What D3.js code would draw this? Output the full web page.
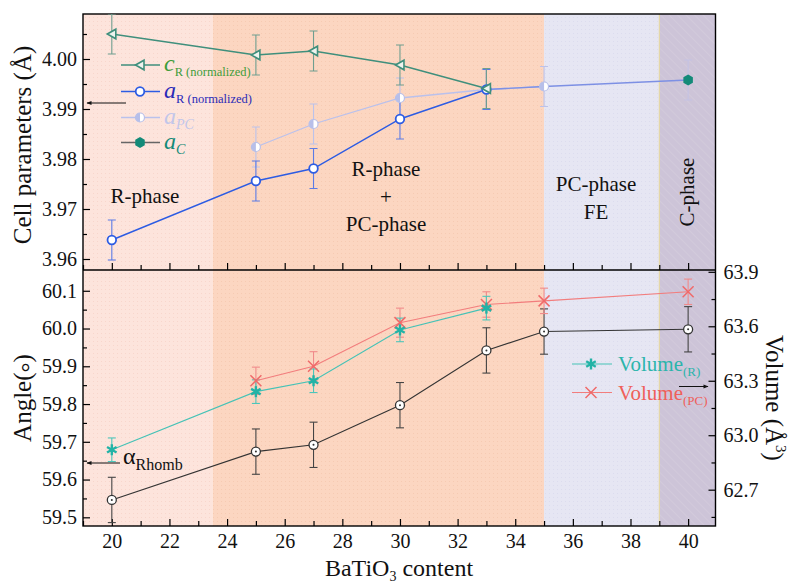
<!DOCTYPE html>
<html><head><meta charset="utf-8">
<script src="https://cdn.jsdelivr.net/npm/d3@7"></script>
<style>
body{margin:0;background:#fff}
svg{font-family:"Liberation Serif","Times New Roman",serif}
.ax path{stroke:#000;stroke-width:1.3}
.ax line{stroke:#000;stroke-width:1.2}
.ax text{font-family:"Liberation Serif",serif;font-size:20px;fill:#111}
</style>
</head><body><svg id="c" width="793" height="586"></svg>
<script>
// ---------- data ----------
const xMajorTicks=[20,22,24,26,28,30,32,34,36,38,40];
const xMinorTicks=[19,21,23,25,27,29,31,33,35,37,39];
const cellTicks=[3.96,3.97,3.98,3.99,4.00];
const cellMinor=[3.965,3.975,3.985,3.995,4.005];
const angleTicks=[59.5,59.6,59.7,59.8,59.9,60.0,60.1];
const angleMinor=[59.55,59.65,59.75,59.85,59.95,60.05];
const volTicks=[62.7,63.0,63.3,63.6,63.9];
const volMinor=[62.55,62.85,63.15,63.45,63.75];

const phaseEdges=[23.5,35,39];           // R | R+PC | PC | C
const cR_x=[20,25,27,30,33];
const cR_y=[4.0050,4.0008,4.0016,3.9988,3.9941];
const cR_err=[0.004,0.004,0.004,0.004,0.004];
const aR_x=[20,25,27,30,33];
const aR_y=[3.9638,3.9756,3.9781,3.9880,3.9939];
const aR_err=[0.004,0.004,0.004,0.004,0.004];
const aPC_x=[25,27,30,33,35];
const aPC_y=[3.9824,3.9870,3.9922,3.9939,3.9945];
const aPC_err=[0.004,0.004,0.004,0.004,0.004];
const aC_x=[40];
const aC_y=[3.9958];
const aC_err=[0.004];
const alpha_x=[20,25,27,30,33,35,40];
const alpha_y=[59.546,59.674,59.692,59.797,59.942,59.992,59.998];
const alpha_err=[0.06,0.06,0.06,0.06,0.06,0.06,0.06];
const volR_x=[20,25,27,30,33];
const volR_y=[62.92,63.24,63.30,63.58,63.70];
const volR_err=[0.065,0.065,0.065,0.065,0.065];
const volPC_x=[25,27,30,33,35,40];
const volPC_y=[63.30,63.38,63.62,63.72,63.74,63.79];
const volPC_err=[0.075,0.08,0.08,0.07,0.07,0.07];

// ---------- layout ----------
const L=83,R=715.5,T=14,MID=270,B=526;
const svg=d3.select("#c");
const x=d3.scaleLinear().domain([19.0,40.95]).range([L,R]);
const yCell=d3.scaleLinear().domain([3.9578,4.009]).range([MID,T]);
const yAng=d3.scaleLinear().domain([59.477,60.155]).range([B,MID]);
const yVol=d3.scaleLinear().domain([62.5,63.91]).range([B,MID]);

const defs=svg.append("defs");
function dotPat(id,bg,dot){
  const p=defs.append("pattern").attr("id",id).attr("width",4).attr("height",4).attr("patternUnits","userSpaceOnUse");
  p.append("rect").attr("width",4).attr("height",4).attr("fill",bg);
  p.append("rect").attr("x",1).attr("y",1).attr("width",1).attr("height",1).attr("fill",dot);
}
dotPat("pR","#fde4dc","#f8d6cc");
dotPat("pRPC","#fcd6c1","#f6cab2");
dotPat("pPC","#e6e6f3","#dcdcee");
const hp=defs.append("pattern").attr("id","pC").attr("width",6).attr("height",6).attr("patternUnits","userSpaceOnUse").attr("patternTransform","rotate(-45)");
hp.append("rect").attr("width",6).attr("height",6).attr("fill","#cdc4d8");
hp.append("line").attr("x1",0).attr("y1",0).attr("x2",0).attr("y2",6).attr("stroke","#d6cede").attr("stroke-width",1.2);

// backgrounds
const bounds=[x.domain()[0],...phaseEdges,x.domain()[1]];
const fills=["url(#pR)","url(#pRPC)","url(#pPC)","url(#pC)"];
for(let i=0;i<4;i++){
  svg.append("rect").attr("x",x(bounds[i])).attr("y",T).attr("width",x(bounds[i+1])-x(bounds[i])).attr("height",B-T).attr("fill",fills[i]);
}
svg.append("line").attr("x1",x(phaseEdges[2])).attr("x2",x(phaseEdges[2])).attr("y1",T).attr("y2",B).attr("stroke","#e6d79a").attr("stroke-width",1);

// phase labels
const lab=svg.append("g").attr("font-size",21).attr("fill","#111").attr("text-anchor","middle");
lab.append("text").attr("x",145).attr("y",203).text("R-phase");
lab.append("text").attr("x",386).attr("y",176).text("R-phase");
lab.append("text").attr("x",386).attr("y",204).text("+");
lab.append("text").attr("x",386).attr("y",231).text("PC-phase");
lab.append("text").attr("x",596).attr("y",191).text("PC-phase");
lab.append("text").attr("x",596).attr("y",219).text("FE");
lab.append("text").attr("transform","translate(694,192) rotate(-90)").text("C-phase");

// ---------- axes ----------
function addAxis(gen,tx,ty){return svg.append("g").attr("class","ax").attr("transform",`translate(${tx},${ty})`).call(gen);}
addAxis(d3.axisLeft(yCell).tickValues(cellTicks).tickFormat(d3.format(".2f")).tickSize(-7).tickPadding(6),L,0);
addAxis(d3.axisLeft(yCell).tickValues(cellMinor).tickFormat("").tickSize(-4),L,0);
addAxis(d3.axisBottom(x).tickValues(xMajorTicks).tickFormat("").tickSize(-7),0,MID);
addAxis(d3.axisBottom(x).tickValues(xMinorTicks).tickFormat("").tickSize(-5),0,MID);
addAxis(d3.axisLeft(yAng).tickValues(angleTicks).tickFormat(d3.format(".1f")).tickSize(-7).tickPadding(6),L,0);
addAxis(d3.axisLeft(yAng).tickValues(angleMinor).tickFormat("").tickSize(-4),L,0);
addAxis(d3.axisRight(yVol).tickValues(volTicks).tickFormat(d3.format(".1f")).tickSize(-7).tickPadding(8),R,0);
addAxis(d3.axisRight(yVol).tickValues(volMinor).tickFormat("").tickSize(-4),R,0);
addAxis(d3.axisBottom(x).tickValues(xMajorTicks).tickFormat(d3.format("d")).tickSize(-7).tickPadding(8),0,B);
addAxis(d3.axisBottom(x).tickValues(xMinorTicks).tickFormat("").tickSize(-5),0,B);
svg.selectAll(".ax .domain").remove();
svg.append("rect").attr("x",L).attr("y",T).attr("width",R-L).attr("height",B-T).attr("fill","none").attr("stroke","#000").attr("stroke-width",1.4);
svg.append("line").attr("x1",L).attr("x2",R).attr("y1",MID).attr("y2",MID).attr("stroke","#000").attr("stroke-width",1.4);

// ---------- series helpers ----------
const clip=defs.append("clipPath").attr("id","clipTop");
clip.append("rect").attr("x",L).attr("y",T).attr("width",R-L).attr("height",MID-T);
function pts(xs,ys,es){return xs.map((v,i)=>({x:v,y:ys[i],e:es?es[i]:0}));}
function drawErr(g,data,ys,color,w){
  data.forEach(d=>{
    const y1=ys(d.y-d.e),y2=ys(d.y+d.e),cx=x(d.x);
    g.append("line").attr("x1",cx).attr("x2",cx).attr("y1",y1).attr("y2",y2).attr("stroke",color).attr("stroke-width",w||1.2);
    [y1,y2].forEach(yy=>g.append("line").attr("x1",cx-4).attr("x2",cx+4).attr("y1",yy).attr("y2",yy).attr("stroke",color).attr("stroke-width",w||1.2));
  });
}
function drawLine(g,data,ys,color,w){
  g.append("path").datum(data).attr("fill","none").attr("stroke",color).attr("stroke-width",w)
   .attr("d",d3.line().x(d=>x(d.x)).y(d=>ys(d.y)));
}
const mk={
  triL:(g,c)=>g.append("path").attr("d","M-4.5,0L4,-4.8L4,4.8Z").attr("fill","#eef3ee").attr("stroke",c).attr("stroke-width",1.6),
  circ:(g,c)=>g.append("circle").attr("r",4.3).attr("fill","#fff").attr("stroke",c).attr("stroke-width",1.8),
  half:(g,c)=>{g.append("circle").attr("r",4.5).attr("fill","#fff").attr("stroke",c).attr("stroke-width",1.2);
               g.append("path").attr("d","M0,-4.5A4.5,4.5 0 0 0 0,4.5Z").attr("fill",c);},
  hex:(g,c)=>g.append("path").attr("d",d3.range(6).map((k,i)=>(i?"L":"M")+(5.5*Math.cos(Math.PI/3*k+Math.PI/6)).toFixed(2)+","+(5.5*Math.sin(Math.PI/3*k+Math.PI/6)).toFixed(2)).join("")+"Z").attr("fill",c),
  dotc:(g,c)=>{g.append("circle").attr("r",4.5).attr("fill","#fff").attr("stroke",c).attr("stroke-width",1.3);
               g.append("circle").attr("r",1).attr("fill",c);},
  star:(g,c)=>{[90,30,150].forEach(a=>{const r=a*Math.PI/180;g.append("line").attr("x1",-5.5*Math.cos(r)).attr("y1",-5.5*Math.sin(r)).attr("x2",5.5*Math.cos(r)).attr("y2",5.5*Math.sin(r)).attr("stroke",c).attr("stroke-width",2.4);});
               g.append("circle").attr("r",2.2).attr("fill",c);},
  cross:(g,c)=>{g.append("path").attr("d","M-5.5,-5.5L5.5,5.5M-5.5,5.5L5.5,-5.5").attr("stroke",c).attr("stroke-width",1.5).attr("fill","none");}
};
function drawMarks(g,data,ys,type,color){
  data.forEach(d=>{const m=g.append("g").attr("transform",`translate(${x(d.x)},${ys(d.y)})`);mk[type](m,color);});
}

// ---------- top panel ----------
const gTop=svg.append("g").attr("clip-path","url(#clipTop)");
const cR=pts(cR_x,cR_y,cR_err),aR=pts(aR_x,aR_y,aR_err),aPC=pts(aPC_x,aPC_y,aPC_err),aC=pts(aC_x,aC_y,aC_err);
drawErr(gTop,aPC,yCell,"#bcc2ea",1.1);
drawErr(gTop,aC,yCell,"#c4c2e4",1.1);
drawErr(gTop,aR,yCell,"#5b7be6",1.1);
drawErr(gTop,cR,yCell,"#6f9e8f",1.1);
drawLine(gTop,aPC,yCell,"#bac1ec",1.3);
const conn=[aR[aR.length-1],aPC[aPC.length-1],aC[0]];
drawLine(gTop,conn,yCell,"#7d90e4",1.3);
drawLine(gTop,aR,yCell,"#2d5ce3",1.4);
drawLine(gTop,cR,yCell,"#3f8f7c",1.4);
drawMarks(gTop,aPC,yCell,"half","#b7bfe9");
drawMarks(gTop,aR,yCell,"circ","#2d5ce3");
drawMarks(gTop,cR,yCell,"triL","#3f8f7c");
drawMarks(gTop,aC,yCell,"hex","#138a78");

// ---------- bottom panel ----------
const gBot=svg.append("g");
const al=pts(alpha_x,alpha_y,alpha_err),vR=pts(volR_x,volR_y,volR_err),vPC=pts(volPC_x,volPC_y,volPC_err);
drawErr(gBot,al,yAng,"#444",1.1);
drawErr(gBot,vPC,yVol,"#f08a8a",1.1);
drawErr(gBot,vR,yVol,"#4cc6ba",1.1);
drawLine(gBot,al,yAng,"#333",1.1);
drawLine(gBot,vPC,yVol,"#f27d7d",1.1);
drawLine(gBot,vR,yVol,"#45c2b6",1.1);
drawMarks(gBot,al,yAng,"dotc","#333");
drawMarks(gBot,vPC,yVol,"cross","#f06a6a");
drawMarks(gBot,vR,yVol,"star","#23b3a6");

// ---------- legends ----------
function legRow(g,y,lineColor,type,mColor){
  g.append("line").attr("x1",121).attr("x2",160).attr("y1",y).attr("y2",y).attr("stroke",lineColor).attr("stroke-width",1.4);
  const m=g.append("g").attr("transform",`translate(140,${y})`);mk[type](m,mColor);
}
const lg=svg.append("g");
legRow(lg,65,"#3f8f7c","triL","#3f8f7c");
legRow(lg,91.5,"#2d5ce3","circ","#2d5ce3");
legRow(lg,117.5,"#bac1ec","half","#b7bfe9");
legRow(lg,142.5,"#666","hex","#138a78");
function legText(g,xx,y,main,sub,color,subItalic,mainSize,subSize){
  const t=g.append("text").attr("x",xx).attr("y",y).attr("fill",color).attr("font-size",mainSize);
  t.append("tspan").attr("font-style","italic").text(main);
  t.append("tspan").attr("font-size",subSize).attr("dy",5).attr("font-style",subItalic?"italic":"normal").text(sub);
}
legText(lg,164,71,"c","R (normalized)","#3f9c3a",false,24,12.5);
legText(lg,164,97.5,"a","R (normalized)","#2a2ab8",false,24,12.5);
legText(lg,164,123.5,"a","PC","#c2c6ea",true,24,14);
legText(lg,164,148.5,"a","C","#138a78",true,24,14);
function legRow2(y,lineColor,type,mColor){
  lg.append("line").attr("x1",572).attr("x2",612).attr("y1",y).attr("y2",y).attr("stroke",lineColor).attr("stroke-width",1.2);
  const m=lg.append("g").attr("transform",`translate(591,${y})`);mk[type](m,mColor);
}
legRow2(364,"#45c2b6","star","#23b3a6");
legRow2(392.5,"#f27d7d","cross","#f06a6a");
function legText2(y,sub,color){
  const t=lg.append("text").attr("x",618).attr("y",y).attr("fill",color).attr("font-size",21);
  t.append("tspan").text("Volume");
  t.append("tspan").attr("font-size",13).attr("dy",5).text(sub);
}
legText2(371,"(R)","#2bb5ab");
legText2(399.5,"(PC)","#ef5f5a");

// arrows
defs.append("marker").attr("id","ah").attr("viewBox","0 0 10 10").attr("refX",9).attr("refY",5).attr("markerWidth",7).attr("markerHeight",5).attr("orient","auto")
  .append("path").attr("d","M0,1L10,5L0,9Z").attr("fill","#111");
svg.append("line").attr("x1",126).attr("x2",87).attr("y1",103).attr("y2",103).attr("stroke","#111").attr("stroke-width",1).attr("marker-end","url(#ah)");
svg.append("line").attr("x1",120).attr("x2",87).attr("y1",463).attr("y2",463).attr("stroke","#111").attr("stroke-width",1).attr("marker-end","url(#ah)");
svg.append("line").attr("x1",679).attr("x2",708).attr("y1",386.5).attr("y2",386.5).attr("stroke","#111").attr("stroke-width",1).attr("marker-end","url(#ah)");
const at=svg.append("text").attr("x",123).attr("y",464).attr("fill","#111").attr("font-size",24);
at.append("tspan").text("α");
at.append("tspan").attr("font-size",16).attr("dy",6).text("Rhomb");

// axis titles
svg.append("text").attr("transform","translate(31,145) rotate(-90)").attr("text-anchor","middle").attr("font-size",25).attr("fill","#111").text("Cell parameters (Å)");
const ag=svg.append("text").attr("transform","translate(31,398) rotate(-90)").attr("text-anchor","middle").attr("font-size",25).attr("fill","#111");
ag.append("tspan").text("Angle(");
ag.append("tspan").attr("dy",7).text("°");
ag.append("tspan").attr("dy",-7).text(")");
const vt=svg.append("text").attr("transform","translate(766,398) rotate(90)").attr("text-anchor","middle").attr("font-size",25).attr("fill","#111");
vt.append("tspan").text("Volume (Å");
vt.append("tspan").attr("font-size",15).attr("dy",-10).text("3");
vt.append("tspan").attr("dy",10).text(")");
const xt=svg.append("text").attr("x",399).attr("y",576).attr("text-anchor","middle").attr("font-size",24).attr("fill","#111");
xt.append("tspan").text("BaTiO");
xt.append("tspan").attr("font-size",14).attr("dy",5).text("3");
xt.append("tspan").attr("dy",-5).text(" content");
</script>
</body></html>
